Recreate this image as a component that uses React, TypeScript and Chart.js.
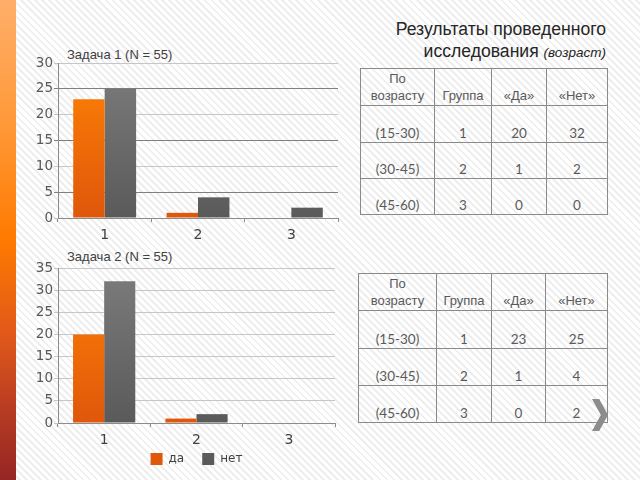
import React, { useEffect, useRef } from "react";
import { Chart, registerables } from "chart.js";

Chart.register(...registerables);

// ---- data ----
const categories = ["1", "2", "3"];
const seriesNames = ["да", "нет"];
const task1Yes = [23, 1, 0];
const task1No = [25, 4, 2];
const task2Yes = [20, 1, 0];
const task2No = [32, 2, 0];
const task1Title = "Задача 1 (N = 55)";
const task2Title = "Задача 2 (N = 55)";
const task1Max = 30;
const task2Max = 35;
const tickStep = 5;

const slideTitleLine1 = "Результаты проведенного";
const slideTitleLine2 = "исследования";
const slideTitleNote = "(возраст)";

const tableHeaders = ["По возрасту", "Группа", "«Да»", "«Нет»"];
const ageGroups = ["(15-30)", "(30-45)", "(45-60)"];
const groupNumbers = ["1", "2", "3"];
const table1Yes = [20, 1, 0];
const table1No = [32, 2, 0];
const table2Yes = [23, 1, 0];
const table2No = [25, 4, 2];

// ---- helpers ----
function vgrad(top: string, bottom: string) {
  return (ctx: any) => {
    const chart = ctx.chart;
    const area = chart.chartArea;
    if (!area) return top;
    const g = chart.ctx.createLinearGradient(0, area.top, 0, area.bottom);
    g.addColorStop(0, top);
    g.addColorStop(1, bottom);
    return g;
  };
}

// lets the category labels extend below the (compact) x-axis box without being clipped
const labelRoom = {
  id: "labelRoom",
  afterLayout(chart: any) {
    const x = chart.scales.x;
    if (x && x.bottom < x.top + 30) x.bottom = x.top + 30;
  },
};

type BarProps = {
  yes: number[];
  no: number[];
  max: number;
  left: number;
  top: number;
  width: number;
  height: number;
  padTop: number;
  padRight: number;
  xHeight: number;
  legend: boolean;
  altGrid: boolean;
};

function BarChart(p: BarProps) {
  const ref = useRef<HTMLCanvasElement>(null);
  useEffect(() => {
    const canvas = ref.current!;
    const chart = new Chart(canvas, {
      type: "bar",
      data: {
        labels: categories,
        datasets: [
          {
            label: seriesNames[0],
            data: p.yes,
            backgroundColor: vgrad("#FF8205", "#DF570B") as any,
            borderWidth: 0,
            barPercentage: 1,
            categoryPercentage: 0.674,
          },
          {
            label: seriesNames[1],
            data: p.no,
            backgroundColor: vgrad("#7C7C7C", "#5A5A5A") as any,
            borderWidth: 0,
            barPercentage: 1,
            categoryPercentage: 0.674,
          },
        ],
      },
      plugins: [labelRoom],
      options: {
        responsive: false,
        animation: false,
        layout: { padding: { top: p.padTop, right: p.padRight, left: 0, bottom: 0 } },
        plugins: {
          title: { display: false },
          tooltip: { enabled: false },
          legend: {
            display: p.legend,
            position: "bottom",
            fullSize: false,
            labels: {
              boxWidth: 12,
              boxHeight: 12,
              padding: 18,
              color: "#404040",
              font: { family: "DejaVu Sans", size: 12 },
            },
          },
        },
        scales: {
          x: {
            afterFit: (s: any) => {
              s.height = p.xHeight;
            },
            grid: {
              display: true,
              drawOnChartArea: false,
              drawTicks: true,
              tickLength: 4,
              color: "#8C8C8C",
              offset: true,
            },
            border: { display: true, color: "#8C8C8C" },
            ticks: {
              color: "#404040",
              padding: 5,
              font: { family: "DejaVu Sans", size: 14 },
            },
          },
          y: {
            min: 0,
            max: p.max,
            afterFit: (s: any) => {
              s.width = 58;
            },
            grid: {
              drawTicks: true,
              tickLength: 4,
              color: (c: any) => {
                if (p.altGrid && c.tick && c.tick.value % 10 === 5) return "#7F7F7F";
                return "#C6C6C6";
              },
            },
            border: { display: true, color: "#8C8C8C" },
            ticks: {
              stepSize: tickStep,
              color: "#595959",
              padding: 1,
              font: { family: "DejaVu Sans", size: 13.5 },
            },
          },
        },
      } as any,
    });
    return () => chart.destroy();
  }, []);
  return (
    <canvas
      ref={ref}
      width={p.width}
      height={p.height}
      style={{ position: "absolute", left: p.left, top: p.top, width: p.width, height: p.height }}
    />
  );
}

type TableProps = {
  left: number;
  top: number;
  cols: number[];
  rows: number[];
  yes: number[];
  no: number[];
};

function DataTable(t: TableProps) {
  const totalW = t.cols.reduce((a, b) => a + b, 0);
  const cellBase: React.CSSProperties = {
    border: "1px solid #8A8A8A",
    verticalAlign: "bottom",
    textAlign: "center",
    padding: "0 0 1px 0",
    color: "#5A5A5A",
    overflow: "hidden",
    whiteSpace: "nowrap",
  };
  const numFont: React.CSSProperties = {
    fontFamily: "Lato, 'Open Sans', sans-serif",
    fontSize: 13.5,
    lineHeight: "15px",
  };
  const headFont: React.CSSProperties = {
    fontFamily: "'Liberation Sans', Arial, sans-serif",
    fontSize: 13,
    lineHeight: "17px",
  };
  return (
    <table
      style={{
        position: "absolute",
        left: t.left,
        top: t.top,
        width: totalW,
        borderCollapse: "collapse",
        tableLayout: "fixed",
      }}
    >
      <colgroup>
        {t.cols.map((w, i) => (
          <col key={i} style={{ width: w }} />
        ))}
      </colgroup>
      <tbody>
        <tr style={{ height: t.rows[0] }}>
          {tableHeaders.map((h, i) => (
            <td key={i} style={{ ...cellBase, ...headFont, whiteSpace: i === 0 ? "normal" : "nowrap" }}>
              {i === 0 ? (
                <>
                  По
                  <br />
                  возрасту
                </>
              ) : (
                h
              )}
            </td>
          ))}
        </tr>
        {ageGroups.map((g, r) => (
          <tr key={r} style={{ height: t.rows[r + 1] }}>
            <td style={{ ...cellBase, ...numFont }}>{g}</td>
            <td style={{ ...cellBase, ...numFont }}>{groupNumbers[r]}</td>
            <td style={{ ...cellBase, ...numFont }}>{t.yes[r]}</td>
            <td style={{ ...cellBase, ...numFont }}>{t.no[r]}</td>
          </tr>
        ))}
      </tbody>
    </table>
  );
}

export default function App() {
  const label: React.CSSProperties = {
    position: "absolute",
    fontFamily: "'Liberation Sans', Arial, sans-serif",
    fontSize: 13,
    color: "#404040",
    whiteSpace: "nowrap",
  };
  return (
    <div
      style={{
        position: "fixed",
        left: 0,
        top: 0,
        width: 640,
        height: 480,
        overflow: "hidden",
        background:
          "repeating-linear-gradient(45deg, #FFFFFF 0px, #FFFFFF 3px, #EEEEEE 3px, #EEEEEE 5px)",
      }}
    >
      <div
        style={{
          position: "absolute",
          left: 0,
          top: 0,
          width: 16,
          height: 480,
          background:
            "linear-gradient(to bottom, #FFAE6A 0%, #FF9A3A 25%, #FF7A00 50%, #E0581A 70%, #B83C22 85%, #952624 100%)",
        }}
      />

      <div
        style={{
          position: "absolute",
          right: 34,
          top: 18,
          textAlign: "right",
          fontFamily: "'Liberation Sans', Arial, sans-serif",
          fontSize: 17.6,
          lineHeight: "22px",
          color: "#262626",
        }}
      >
        <div>{slideTitleLine1}</div>
        <div>
          {slideTitleLine2} <i style={{ fontSize: 13.5 }}>{slideTitleNote}</i>
        </div>
      </div>

      <div style={{ ...label, left: 67, top: 47 }}>{task1Title}</div>
      <div style={{ ...label, left: 67, top: 249 }}>{task2Title}</div>

      <BarChart
        yes={task1Yes}
        no={task1No}
        max={task1Max}
        left={0}
        top={40}
        width={345}
        height={210}
        padTop={23}
        padRight={7}
        xHeight={32}
        legend={false}
        altGrid={true}
      />
      <BarChart
        yes={task2Yes}
        no={task2No}
        max={task2Max}
        left={0}
        top={245}
        width={345}
        height={230}
        padTop={23}
        padRight={10}
        xHeight={12}
        legend={true}
        altGrid={false}
      />

      <DataTable left={360} top={68} cols={[74, 57, 55, 61]} rows={[37, 37, 36, 36]} yes={table1Yes} no={table1No} />
      <DataTable left={358} top={273} cols={[78, 55, 54, 62]} rows={[37, 38, 37, 37]} yes={table2Yes} no={table2No} />

      <div
        style={{
          position: "absolute",
          left: 592,
          top: 399,
          width: 16,
          height: 32,
          background: "#8C8C8C",
          clipPath: "polygon(0% 0%, 45% 0%, 100% 50%, 45% 100%, 0% 100%, 55% 50%)",
        }}
      />
    </div>
  );
}
